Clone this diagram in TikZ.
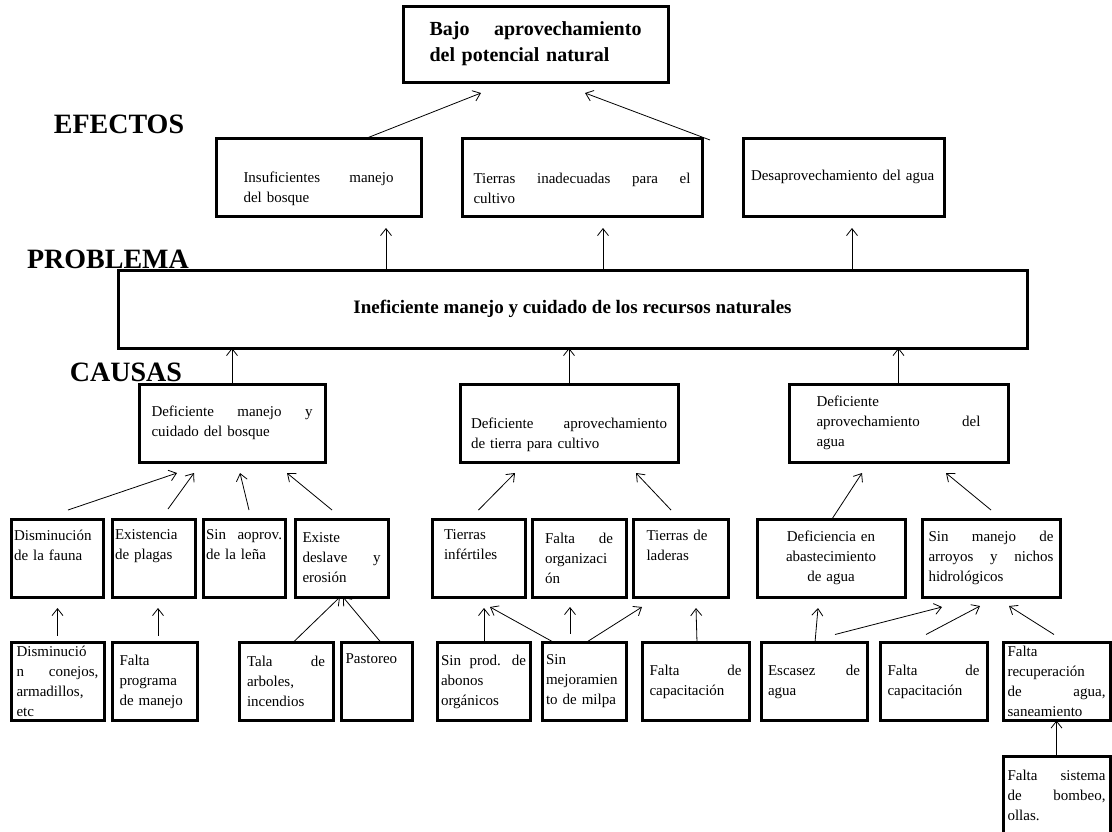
\documentclass[tikz,border=0pt]{standalone}
\usepackage{fontspec}
\setmainfont{Liberation Serif}
\usetikzlibrary{arrows.meta, positioning}

\begin{document}
\begin{tikzpicture}[
    x=1pt, y=-1pt,
    ->,
    >={Straight Barb[length=7pt,width=11pt]},
    line width=0.8pt,
    box/.style={draw, line width=3pt, outer sep=0pt, inner sep=3pt,
        minimum height=78pt, align=left, font=\fontsize{15}{20}\selectfont},
    title/.style={inner sep=0pt, font=\fontsize{28}{30}\selectfont\bfseries}
]
\clip (0,0) rectangle (1112,831);
\fill[white] (0,0) rectangle (1112,831);

% --- Titles ---
\node[title] (efectos) at (119,124) {EFECTOS};
\node[title] (problema) at (108,259) {PROBLEMA};
\node[title] (causas) at (126,372) {CAUSAS};

% --- Top and problem ---
\node[box, minimum width=265pt, minimum height=76pt, text width=212pt,
    font=\fontsize{20}{26}\selectfont\bfseries] (t) at (535.5,44)
    {Bajo \hfill aprovechamiento\\ del potencial natural};
\node[box, minimum width=909pt, align=center,
    font=\fontsize{19}{24}\selectfont\bfseries] (p) at (572.5,309)
    {Ineficiente manejo y cuidado de los recursos naturales};

% --- Effects ---
\node[box, minimum width=205pt, text width=150pt] (e1) at (318.5,177)
    {\strut\\ Insuficientes \hfill manejo\\ del bosque};
\node[box, minimum width=240pt, text width=217pt, right=41pt of e1] (e2)
    {\strut\\ Tierras \hfill inadecuadas \hfill para \hfill el\\ cultivo};
\node[box, minimum width=201pt, text width=185pt, right=41pt of e2] (e3)
    {Desaprovechamiento del agua};

% --- Causes ---
\node[box, minimum width=186pt, text width=161pt] (c1) at (232,423)
    {Deficiente \hfill manejo \hfill y\\ cuidado del bosque};
\node[box, minimum width=218pt, text width=196pt] (c2) at (569,423)
    {\strut\\ Deficiente \hfill aprovechamiento\\ de tierra para cultivo};
\node[box, minimum width=219pt, text width=164pt] (c3) at (898.5,423)
    {Deficiente\\ aprovechamiento \hfill del\\ agua};

% --- Second level ---
\node[box, minimum width=92pt, text width=86pt] (d1) at (57,558)
    {Disminución\\ de la fauna\\ \strut};
\node[box, minimum width=83pt, text width=77pt, right=9pt of d1] (d2)
    {Existencia\\ de plagas\\ \strut};
\node[box, minimum width=82pt, text width=76pt, right=8pt of d2] (d3)
    {Sin \hfill aoprov.\\ de la leña\\ \strut};
\node[box, minimum width=93pt, text width=78pt, right=10pt of d3] (d4)
    {Existe\\ deslave \hfill y\\ erosión};

\node[box, minimum width=93pt, text width=69pt] (f1) at (478.5,558)
    {Tierras\\ infértiles\\ \strut};
\node[box, minimum width=94pt, text width=68pt, right=7pt of f1] (f2)
    {Falta \hfill de\\ organizaci\\ ón};
\node[box, minimum width=95pt, text width=68pt, right=7pt of f2] (f3)
    {Tierras de\\ laderas\\ \strut};

\node[box, minimum width=148pt, text width=130pt, align=center] (g1) at (831,558)
    {Deficiencia en\\ abastecimiento\\ de agua};
\node[box, minimum width=138pt, text width=125pt, right=17pt of g1] (g2)
    {Sin \hfill manejo \hfill de\\ arroyos \hfill y \hfill nichos\\ hidrológicos};

% --- Third level ---
\node[box, minimum width=93pt, text width=82pt] (h1) at (57.5,681.5)
    {Disminució\\ n \hfill conejos,\\ armadillos,\\ etc};
\node[box, minimum width=85pt, text width=70pt, right=8pt of h1] (h2)
    {Falta\\ programa\\ de manejo};
\node[box, minimum width=94pt, text width=78pt] (h3) at (286,681.5)
    {Tala \hfill de\\ arboles,\\ incendios};
\node[box, minimum width=71pt, text width=62pt, right=8pt of h3] (h4)
    {Pastoreo\\ \strut\\ \strut};

\node[box, minimum width=93pt, text width=85pt] (i1) at (483.5,681.5)
    {Sin \hfill prod. \hfill de\\ abonos\\ orgánicos};
\node[box, minimum width=84pt, text width=76pt, right=12pt of i1] (i2)
    {Sin\\ mejoramien\\ to de milpa};
\node[box, minimum width=107pt, text width=92pt, right=16pt of i2] (i3)
    {Falta \hfill de\\ capacitación};

\node[box, minimum width=106pt, text width=92pt, right=12pt of i3] (j1)
    {Escasez \hfill de\\ agua};
\node[box, minimum width=107pt, text width=92pt, right=13pt of j1] (j2)
    {Falta \hfill de\\ capacitación};
\node[box, minimum width=107pt, text width=98pt, right=16pt of j2] (j3)
    {Falta\\ recuperación\\ de \hfill agua,\\ saneamiento};
\node[box, minimum width=107pt, text width=98pt, below=36pt of j3] (k)
    {Falta \hfill sistema\\ de \hfill bombeo,\\ ollas.};

% --- Effects to top ---
\draw ([xshift=48.5pt]e1.north) -- ([xshift=-54.5pt,yshift=-11pt]t.south);
\draw ([xshift=8pt,yshift=-2pt]e2.north east) -- ([xshift=49.5pt,yshift=-11pt]t.south);

% --- Problem to effects ---
\draw ([xshift=-186.5pt]p.north) -- ([xshift=67.5pt,yshift=-12pt]e1.south);
\draw ([xshift=30.5pt]p.north) -- ([xshift=21pt,yshift=-12pt]e2.south);
\draw ([xshift=279.5pt]p.north) -- ([xshift=8.5pt,yshift=-12pt]e3.south);

% --- Causes to problem ---
\draw (c1.north) -- (c1.north |- p.south);
\draw (c2.north) -- (c2.north |- p.south);
\draw (c3.north) -- (c3.north |- p.south);

% --- Second level to causes ---
\draw ([xshift=11pt,yshift=9pt]d1.north) -- ([xshift=-55pt,yshift=-11pt]c1.south);
\draw ([xshift=14.5pt,yshift=10pt]d2.north) -- ([xshift=-38pt,yshift=-11pt]c1.south);
\draw ([xshift=5pt,yshift=9pt]d3.north) -- ([xshift=8pt,yshift=-11pt]c1.south);
\draw ([xshift=-9.5pt,yshift=9pt]d4.north) -- ([xshift=55pt,yshift=-11pt]c1.south);
\draw ([yshift=9pt]f1.north) -- ([xshift=-54pt,yshift=-11pt]c2.south);
\draw ([xshift=-9.5pt,yshift=9pt]f3.north) -- ([xshift=67pt,yshift=-11pt]c2.south);
\draw ([xshift=1pt]g1.north) -- ([xshift=-36.5pt,yshift=-11pt]c3.south);
\draw ([yshift=9pt]g2.north) -- ([xshift=47.5pt,yshift=-11pt]c3.south);

% --- Third level to second level ---
\draw ([yshift=7pt]h1.north) -- ([xshift=0.5pt,yshift=-11pt]d1.south);
\draw ([xshift=3.5pt,yshift=7pt]h2.north) -- ([xshift=4.5pt,yshift=-11pt]d2.south);
\draw ([xshift=7pt]h3.north) -- ([xshift=-1.5pt]d4.south);
\draw ([xshift=4.5pt]h4.north) -- ([xshift=1.5pt]d4.south);
\draw ([xshift=0.5pt]i1.north) -- ([xshift=5.5pt,yshift=-11pt]f1.south);
\draw ([xshift=-30pt]i2.north) -- ([xshift=11.5pt,yshift=-10pt]f1.south);
\draw ([xshift=-14pt,yshift=9pt]i2.north) -- ([xshift=-9pt,yshift=-10pt]f2.south);
\draw ([xshift=2pt]i2.north) -- ([xshift=-38.5pt,yshift=-10pt]f3.south);
\draw ([xshift=1.5pt]i3.north) -- ([xshift=15.5pt,yshift=-11pt]f3.south);
\draw ([xshift=1pt]j1.north) -- ([xshift=-13pt,yshift=-11pt]g1.south);
\draw ([xshift=21pt,yshift=8pt]j1.north) -- ([xshift=-49pt,yshift=-10pt]g2.south);
\draw ([xshift=-7.5pt,yshift=8pt]j2.north) -- ([xshift=-11pt,yshift=-9pt]g2.south);
\draw ([xshift=-2.5pt,yshift=8pt]j3.north) -- ([xshift=18pt,yshift=-9pt]g2.south);
\draw (k.north) -- (j3.south);

\end{tikzpicture}
\end{document}
